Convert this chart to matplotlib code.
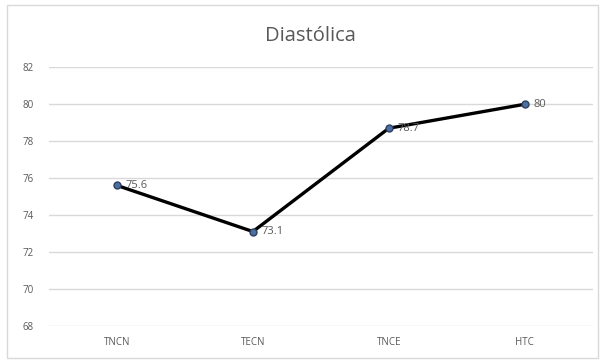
import matplotlib
matplotlib.use("Agg")
import matplotlib.pyplot as plt
from matplotlib.patches import Rectangle

# Presión diastólica por grupo
grupos = ["TNCN", "TECN", "TNCE", "HTC"]
diastolica = [75.6, 73.1, 78.7, 80]
etiquetas = ["75.6", "73.1", "78.7", "80"]

gris = "#595959"

fig = plt.figure(figsize=(6.03, 3.62), dpi=100)
ax = fig.add_axes([0.0813, 0.0994, 0.9017, 0.7156])

# borde del gráfico
fig.patches.append(Rectangle((0.012, 0.01), 0.98, 0.975, transform=fig.transFigure,
                             fill=False, edgecolor="#d9d9d9", linewidth=1))

x = range(len(grupos))
ax.plot(x, diastolica, color="black", linewidth=2.4, zorder=3,
        marker="o", markersize=5, markerfacecolor="#4a6fa5", markeredgecolor="#2f3f5f",
        markeredgewidth=1)

for i, (v, t) in enumerate(zip(diastolica, etiquetas)):
    ax.annotate(t, (i, v), xytext=(6, 0), textcoords="offset points",
                va="center", ha="left", fontsize=8, color=gris, family="Open Sans")

ax.set_xlim(-0.5, len(grupos) - 0.5)
ax.set_ylim(67.98, 82.02)
ax.set_yticks(range(68, 83, 2))
ax.set_xticks(list(x))
ax.set_xticklabels(grupos)
ax.grid(axis="y", color="#d9d9d9", linewidth=1)
ax.set_axisbelow(True)
ax.tick_params(length=0, labelsize=7, labelcolor=gris, pad=8)
for lbl in ax.get_xticklabels() + ax.get_yticklabels():
    lbl.set_family("Open Sans")
ax.tick_params(axis="y", pad=11)
for s in ax.spines.values():
    s.set_visible(False)

fig.text(0.515, 0.9, "Diastólica", ha="center", va="center", fontsize=14.5,
         color=gris, family="Open Sans")

fig.savefig("out.png", dpi=100)
